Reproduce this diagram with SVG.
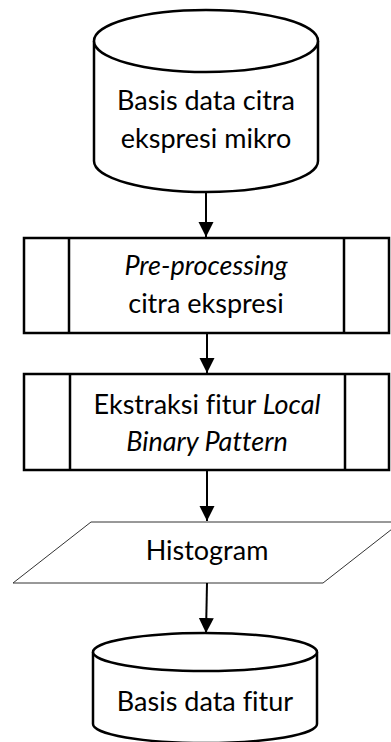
<svg xmlns="http://www.w3.org/2000/svg" width="391" height="742" viewBox="0 0 391 742">
<style>
.shape{fill:#fff;stroke:#000;stroke-width:2.5}
.para{fill:#fff;stroke:#333;stroke-width:1}
.lbl{font-family:Lato,"Liberation Sans",sans-serif;font-size:27px;fill:#000;text-anchor:middle;font-variant-ligatures:none;font-feature-settings:"liga" 0}
.it{font-style:italic}
.conn{stroke:#000;stroke-width:2;fill:none;marker-end:url(#arr)}
</style>
<defs>
<marker id="arr" markerUnits="userSpaceOnUse" markerWidth="16" markerHeight="16" refX="15" refY="7.5" orient="auto">
<path d="M0,0 L15,7.5 L0,15 Z" fill="#000"/>
</marker>
</defs>
<g id="db1">
<path class="shape" d="M94,41 V161 A112,31 0 0 0 318,161 V41"/>
<ellipse class="shape" cx="206" cy="41" rx="112" ry="31"/>
<text class="lbl" x="206" y="110">Basis data citra</text>
<text class="lbl" x="206" y="148">ekspresi mikro</text>
</g>
<g id="proc1">
<rect class="shape" x="24" y="238" width="365" height="95"/>
<line class="shape" x1="69" y1="238" x2="69" y2="333"/>
<line class="shape" x1="344" y1="238" x2="344" y2="333"/>
<text class="lbl it" x="206" y="275">Pre-processing</text>
<text class="lbl" x="206" y="313">citra ekspresi</text>
</g>
<g id="proc2">
<rect class="shape" x="24" y="374" width="365" height="96"/>
<line class="shape" x1="70" y1="374" x2="70" y2="470"/>
<line class="shape" x1="345" y1="374" x2="345" y2="470"/>
<text class="lbl" x="207" y="414">Ekstraksi fitur <tspan class="it">Local</tspan></text>
<text class="lbl it" x="207" y="451">Binary Pattern</text>
</g>
<g id="hist">
<polygon class="para" points="91,522 401,522 323,583 13,583"/>
<text class="lbl" x="207" y="560">Histogram</text>
</g>
<g id="db2">
<path class="shape" d="M93,652 V724 A112,19 0 0 0 317,724 V652"/>
<ellipse class="shape" cx="205" cy="652" rx="112" ry="19"/>
<text class="lbl" x="205" y="711">Basis data fitur</text>
</g>
<g id="connectors">
<line class="conn" x1="206" y1="192" x2="206" y2="237"/>
<line class="conn" x1="207" y1="333" x2="207" y2="373"/>
<line class="conn" x1="207" y1="470" x2="207" y2="521"/>
<line class="conn" x1="207" y1="583" x2="206" y2="633"/>
</g>
</svg>
